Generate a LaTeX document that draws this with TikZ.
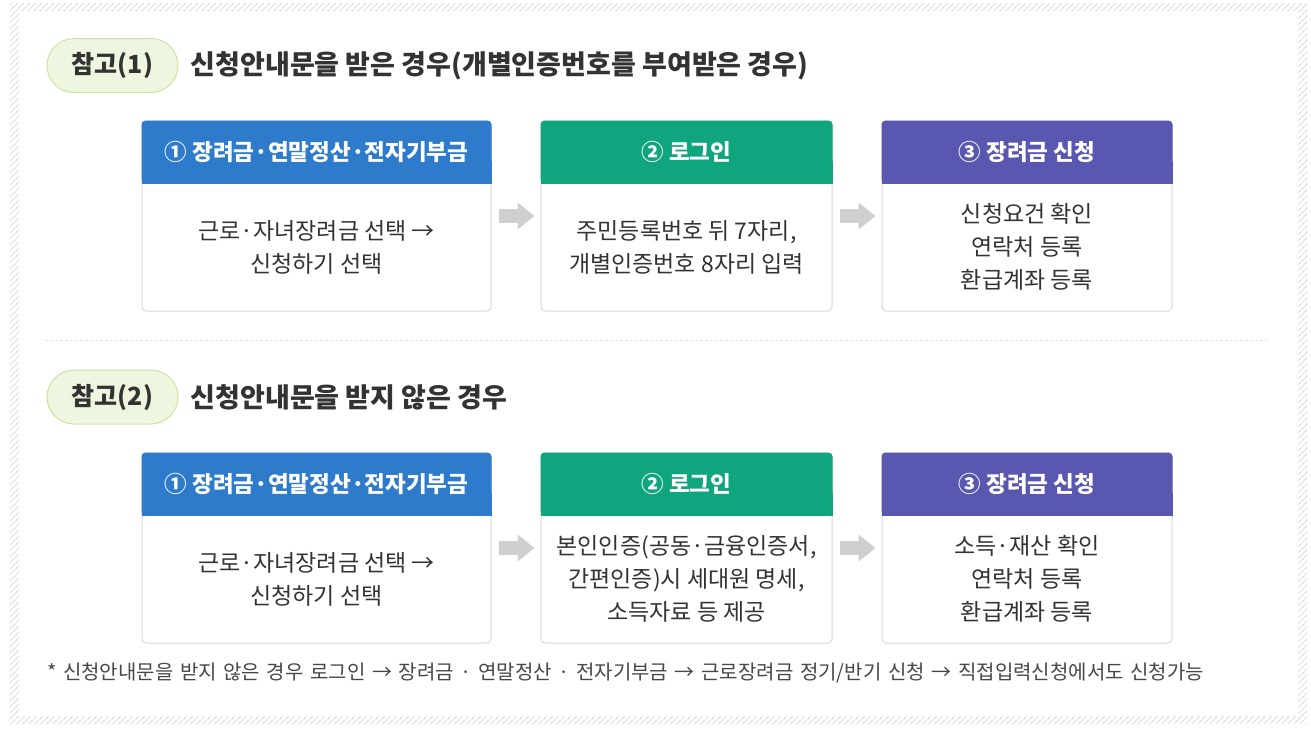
\documentclass[tikz,border=0pt]{standalone}
\usepackage{fontspec}
\setmainfont{Noto Sans CJK KR}
\usetikzlibrary{patterns.meta, arrows.meta, positioning}

\definecolor{hdblue}{HTML}{2F7BCB}
\definecolor{hdgreen}{HTML}{0EA57F}
\definecolor{hdpurple}{HTML}{5A57B1}
\definecolor{pillfill}{HTML}{EFF6DF}
\definecolor{pilledge}{HTML}{CDE3A6}
\definecolor{cardedge}{HTML}{DADADA}
\definecolor{txtdark}{HTML}{333333}
\definecolor{arrowgray}{HTML}{CFCFCF}

\newcommand\widespace{\spaceskip=6.6pt plus 1pt\relax}

\tikzset{
    pill/.style={rounded corners=27pt, minimum width=131pt, minimum height=54pt,
        fill=pillfill, draw=pilledge, line width=1pt, text=txtdark,
        font=\bfseries\fontsize{25}{25}\selectfont},
    heading/.style={inner sep=0pt, text=txtdark, font=\bfseries\fontsize{27}{27}\selectfont},
    card/.style={rectangle, rounded corners=4pt, draw=cardedge, line width=1pt, fill=white, inner sep=0pt},
    hdtext/.style={text=white, font=\bfseries\fontsize{22.5}{22.5}\selectfont},
    bodytext/.style={text=txtdark, align=center, font=\fontsize{23}{33}\selectfont},
    flowarrow/.style={arrowgray, line width=14pt, shorten <=7pt, shorten >=6pt,
        -{Triangle[length=17pt, width=26pt]}},
    note/.style={inner sep=0pt, text=txtdark!90, font=\fontsize{20}{20}\selectfont}
}

% name, centre x, width, top y, colour, header, body
\newcommand\flowcard[7]{%
    \node[card, minimum width=#3, minimum height=190] (#1) at (#2,#4+95) {};
    \fill[#5, rounded corners=4pt] (#1.north west) rectangle ([yshift=-63pt]#1.north east);
    \fill[#5] ([yshift=-40pt]#1.north west) rectangle ([yshift=-63pt]#1.north east);
    \node[hdtext] (#1h) at ([yshift=-31.5pt]#1.north) {#6};
    \node[bodytext] (#1t) at ([yshift=-126.5pt]#1.north) {#7};
}

\begin{document}
\begin{tikzpicture}[x=1pt, y=-1pt]
    \useasboundingbox (0,0) rectangle (1311,729);
    \fill[white] (0,0) rectangle (1311,729);
    % hatched frame
    \fill[pattern={Lines[angle=45, distance=4pt, line width=1.2pt]}, pattern color=gray!30, even odd rule]
        (10,3) rectangle (1307,724) (19,11) rectangle (1298,716);

    % case 1
    \node[pill] (p1) at (112.5,65.5) {참고(1)};
    \node[heading, right=12pt of p1] (t1) {신청안내문을 받은 경우(개별인증번호를 부여받은 경우)};

    \flowcard{c11}{316.5}{349}{121}{hdblue}{① 장려금·연말정산·전자기부금}{근로·자녀장려금 선택 →\\신청하기 선택}
    \flowcard{c12}{686.5}{291}{121}{hdgreen}{② 로그인}{주민등록번호 뒤 7자리,\\개별인증번호 8자리 입력}
    \flowcard{c13}{1027}{290}{121}{hdpurple}{③ 장려금 신청}{신청요건 확인\\연락처 등록\\환급계좌 등록}
    \draw[flowarrow] (c11) -- (c12);
    \draw[flowarrow] (c12) -- (c13);

    \draw[gray!22, dashed, dash pattern=on 3pt off 2pt] (45,340) -- (1268,340);

    % case 2
    \node[pill] (p2) at (112.5,397) {참고(2)};
    \node[heading, right=12pt of p2] (t2) {신청안내문을 받지 않은 경우};

    \flowcard{c21}{316.5}{349}{453}{hdblue}{① 장려금·연말정산·전자기부금}{근로·자녀장려금 선택 →\\신청하기 선택}
    \flowcard{c22}{686.5}{291}{453}{hdgreen}{② 로그인}{본인인증(공동·금융인증서,\\간편인증)시 세대원 명세,\\소득자료 등 제공}
    \flowcard{c23}{1027}{290}{453}{hdpurple}{③ 장려금 신청}{소득·재산 확인\\연락처 등록\\환급계좌 등록}
    \draw[flowarrow] (c21) -- (c22);
    \draw[flowarrow] (c22) -- (c23);

    \node[note, anchor=west] (fn) at (47,673) {\widespace * 신청안내문을 받지 않은 경우 로그인 → 장려금 · 연말정산 · 전자기부금 → 근로장려금 정기/반기 신청 → 직접입력신청에서도 신청가능};
\end{tikzpicture}
\end{document}
